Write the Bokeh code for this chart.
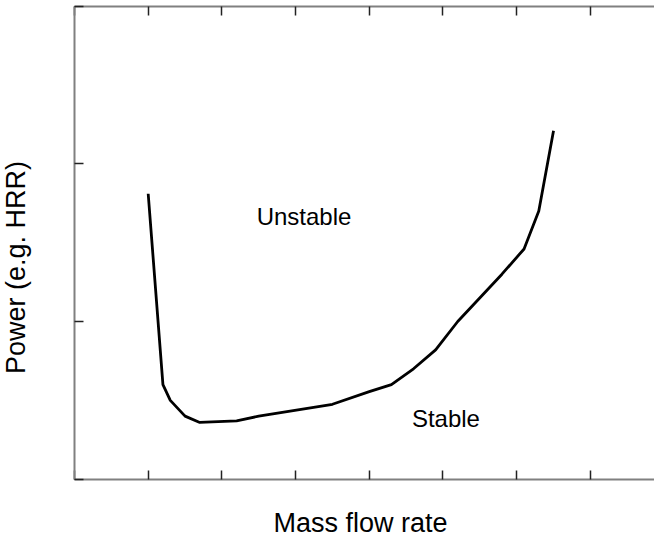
import math
from bokeh.plotting import figure
from bokeh.models import Range1d, FixedTicker, LinearAxis, Label
from bokeh.embed import file_html
from bokeh.resources import INLINE

# Data
flow = [1.0, 1.2, 1.3, 1.5, 1.7, 2.2, 2.5, 3.5, 4.0, 4.3, 4.6, 4.9, 5.2, 5.6, 5.8, 6.1, 6.3, 6.5]
power = [1.81, 0.60, 0.50, 0.40, 0.36, 0.37, 0.40, 0.475, 0.555, 0.60, 0.70, 0.82, 1.0, 1.2, 1.3, 1.46, 1.70, 2.21]
x_ticks = [0, 1, 2, 3, 4, 5, 6, 7, 8]
y_ticks = [0, 1, 2, 3]
region_labels = ["Unstable", "Stable"]
x_title = "Mass flow rate"
y_title = "Power (e.g. HRR)"

FONT = "Liberation Sans"
X_END = 7.87

p = figure(width=654, height=542, output_backend="svg", toolbar_location=None,
           x_range=Range1d(-1.004, X_END), y_range=Range1d(-0.4014, 3.0355),
           min_border_left=0, min_border_right=0, min_border_top=0, min_border_bottom=0,
           x_axis_location=None, y_axis_location=None)
p.outline_line_color = None
p.xgrid.visible = False
p.ygrid.visible = False
p.background_fill_color = "white"
p.border_fill_color = "white"

def style_axis(ax, ticks, bounds, loc):
    ax.ticker = FixedTicker(ticks=ticks)
    ax.bounds = bounds
    ax.fixed_location = loc
    ax.major_tick_in = 9
    ax.major_tick_out = 0
    ax.minor_tick_in = 0
    ax.minor_tick_out = 0
    ax.major_tick_line_color = "#222222"
    ax.major_tick_line_width = 1.5
    ax.axis_line_color = "#808080"
    ax.axis_line_width = 2
    ax.major_label_text_font_size = "0px"
    ax.major_label_standoff = 0

bottom = LinearAxis()
style_axis(bottom, x_ticks, (0, X_END), 0)
p.add_layout(bottom, "below")
top = LinearAxis()
style_axis(top, x_ticks, (0, X_END), 3)
p.add_layout(top, "above")
left = LinearAxis()
style_axis(left, y_ticks, (0, 3), 0)
p.add_layout(left, "left")

p.line(flow, power, line_color="black", line_width=2.8, line_join="round")

p.add_layout(Label(x=3.114, y=1.665, text=region_labels[0], text_font=FONT, text_font_size="24px",
                   text_align="center", text_baseline="alphabetic", text_color="black"))
p.add_layout(Label(x=5.04, y=0.383, text=region_labels[1], text_font=FONT, text_font_size="24px",
                   text_align="center", text_baseline="alphabetic", text_color="black"))
p.add_layout(Label(x=3.88, y=-0.2746, text=x_title, text_font=FONT, text_font_size="27px",
                   text_align="center", text_baseline="alphabetic", text_color="black"))
p.add_layout(Label(x=-0.787, y=1.342, text=y_title, text_font=FONT, text_font_size="27px",
                   angle=math.pi / 2, text_align="center", text_baseline="middle", text_color="black"))

open("out.html", "w").write(file_html(p, INLINE))
